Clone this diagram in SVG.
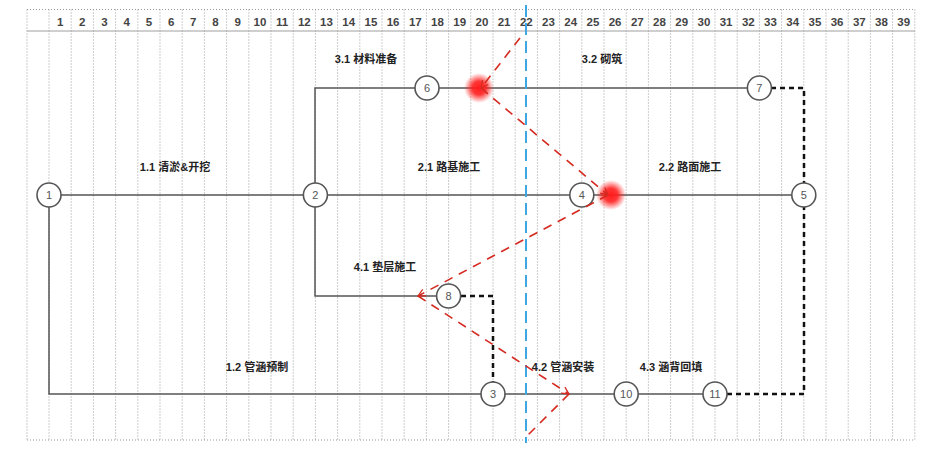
<svg xmlns="http://www.w3.org/2000/svg" width="948" height="456" viewBox="0 0 948 456">
<defs>
<style>
.grid{stroke:#9a9a9a;stroke-width:1;stroke-dasharray:1 2;fill:none}
.hdr{font-family:"Liberation Sans",Arial,sans-serif;font-size:11.5px;font-weight:bold;fill:#444;text-anchor:middle}
.lbl{font-family:"Liberation Sans","Noto Sans CJK SC",sans-serif;font-size:11px;font-weight:bold;fill:#222;text-anchor:middle}
.solid{stroke:#555;stroke-width:1.5;fill:none}
.dash{stroke:#111;stroke-width:2.5;stroke-dasharray:5 4;fill:none}
.red{stroke:#d42a20;stroke-width:1.6;stroke-dasharray:9 7;fill:none}
.blue{stroke:#3ea6e0;stroke-width:2;stroke-dasharray:12 6;fill:none}
.node circle{fill:#fff;stroke:#555;stroke-width:1.6}
.node text{font-family:"Liberation Sans",Arial,sans-serif;font-size:11px;fill:#555;text-anchor:middle}
</style>
<radialGradient id="glow">
<stop offset="0" stop-color="#ff1c1c" stop-opacity="1"/>
<stop offset="0.45" stop-color="#ff2020" stop-opacity="0.9"/>
<stop offset="1" stop-color="#ff3030" stop-opacity="0"/>
</radialGradient>
<marker id="chev" viewBox="0 0 10 10" refX="9" refY="5" markerWidth="9" markerHeight="9" markerUnits="userSpaceOnUse" orient="auto">
<path d="M1,1 L9,5 L1,9" fill="none" stroke="#d42a20" stroke-width="1.4"/>
</marker>
</defs>
<rect width="948" height="456" fill="#fff"/>
<g id="grid">
<line class="grid" x1="27" y1="9.5" x2="915" y2="9.5"/>
<line class="grid" x1="27" y1="440" x2="915" y2="440"/>
<line x1="27" y1="31" x2="915" y2="31" stroke="#cfcfcf" stroke-width="2"/>
<path class="grid" d="M27,9.5V440 M49,9.5V440 M71.2,9.5V440 M93.4,9.5V440 M115.6,9.5V440 M137.8,9.5V440 M160,9.5V440 M182.2,9.5V440 M204.4,9.5V440 M226.6,9.5V440 M248.8,9.5V440 M271,9.5V440 M293.2,9.5V440 M315.4,9.5V440 M337.6,9.5V440 M359.8,9.5V440 M382,9.5V440 M404.2,9.5V440 M426.4,9.5V440 M448.6,9.5V440 M470.8,9.5V440 M493,9.5V440 M515.2,9.5V440 M537.4,9.5V440 M559.6,9.5V440 M581.8,9.5V440 M604,9.5V440 M626.2,9.5V440 M648.4,9.5V440 M670.6,9.5V440 M692.8,9.5V440 M715,9.5V440 M737.2,9.5V440 M759.4,9.5V440 M781.6,9.5V440 M803.8,9.5V440 M826,9.5V440 M848.2,9.5V440 M870.4,9.5V440 M892.6,9.5V440 M914.8,9.5V440"/>
</g>
<g id="header">
<text class="hdr" x="60.1" y="26">1</text><text class="hdr" x="82.3" y="26">2</text><text class="hdr" x="104.5" y="26">3</text><text class="hdr" x="126.7" y="26">4</text><text class="hdr" x="148.9" y="26">5</text><text class="hdr" x="171.1" y="26">6</text><text class="hdr" x="193.3" y="26">7</text><text class="hdr" x="215.5" y="26">8</text><text class="hdr" x="237.7" y="26">9</text><text class="hdr" x="259.9" y="26">10</text><text class="hdr" x="282.1" y="26">11</text><text class="hdr" x="304.3" y="26">12</text><text class="hdr" x="326.5" y="26">13</text><text class="hdr" x="348.7" y="26">14</text><text class="hdr" x="370.9" y="26">15</text><text class="hdr" x="393.1" y="26">16</text><text class="hdr" x="415.3" y="26">17</text><text class="hdr" x="437.5" y="26">18</text><text class="hdr" x="459.7" y="26">19</text><text class="hdr" x="481.9" y="26">20</text><text class="hdr" x="504.1" y="26">21</text><text class="hdr" x="526.3" y="26">22</text><text class="hdr" x="548.5" y="26">23</text><text class="hdr" x="570.7" y="26">24</text><text class="hdr" x="592.9" y="26">25</text><text class="hdr" x="615.1" y="26">26</text><text class="hdr" x="637.3" y="26">27</text><text class="hdr" x="659.5" y="26">28</text><text class="hdr" x="681.7" y="26">29</text><text class="hdr" x="703.9" y="26">30</text><text class="hdr" x="726.1" y="26">31</text><text class="hdr" x="748.3" y="26">32</text><text class="hdr" x="770.5" y="26">33</text><text class="hdr" x="792.7" y="26">34</text><text class="hdr" x="814.9" y="26">35</text><text class="hdr" x="837.1" y="26">36</text><text class="hdr" x="859.3" y="26">37</text><text class="hdr" x="881.5" y="26">38</text><text class="hdr" x="903.7" y="26">39</text>
</g>
<g id="connectors">
<path class="solid" d="M61,195 H303 M327,195 H570 M594,195 H792"/>
<path class="solid" d="M49,207 V394 H481 M505,394 H614 M638,394 H703"/>
<path class="solid" d="M315,183 V88 H415 M439,88 H747"/>
<path class="solid" d="M315,207 V296 H436"/>
<path class="dash" d="M771,88 H804 V183"/>
<path class="dash" d="M461,296 H493 V382"/>
<path class="dash" d="M727,394 H804 V207"/>
</g>
<g id="labels">
<text class="lbl" x="366" y="63">3.1 材料准备</text>
<text class="lbl" x="602" y="63">3.2 砌筑</text>
<text class="lbl" x="175" y="171">1.1 清淤&amp;开挖</text>
<text class="lbl" x="449" y="171">2.1 路基施工</text>
<text class="lbl" x="690" y="171">2.2 路面施工</text>
<text class="lbl" x="385" y="271">4.1 垫层施工</text>
<text class="lbl" x="257" y="371">1.2 管涵预制</text>
<text class="lbl" x="563" y="371">4.2 管涵安装</text>
<text class="lbl" x="671" y="371">4.3 涵背回填</text>
</g>
<g id="node1" class="node"><circle cx="49" cy="195" r="12"/><text x="49" y="199">1</text></g>
<g id="node2" class="node"><circle cx="315.4" cy="195" r="12"/><text x="315.4" y="199">2</text></g>
<g id="node3" class="node"><circle cx="493" cy="394" r="12"/><text x="493" y="398">3</text></g>
<g id="node4" class="node"><circle cx="581.8" cy="195" r="12"/><text x="581.8" y="199">4</text></g>
<g id="node5" class="node"><circle cx="803.8" cy="195" r="12"/><text x="803.8" y="199">5</text></g>
<g id="node6" class="node"><circle cx="427" cy="88" r="12"/><text x="427" y="92">6</text></g>
<g id="node7" class="node"><circle cx="759.4" cy="88" r="12"/><text x="759.4" y="92">7</text></g>
<g id="node8" class="node"><circle cx="448.6" cy="296" r="12"/><text x="448.6" y="300">8</text></g>
<g id="node10" class="node"><circle cx="626.2" cy="394" r="12"/><text x="626.2" y="398">10</text></g>
<g id="node11" class="node"><circle cx="715" cy="394" r="12"/><text x="715" y="398">11</text></g>
<g id="checkline">
<line class="blue" x1="526" y1="5" x2="526" y2="443"/>
<circle cx="479" cy="88" r="15" fill="url(#glow)"/>
<circle cx="611" cy="195" r="15" fill="url(#glow)"/>
<line class="red" x1="520" y1="38" x2="481" y2="88" marker-end="url(#chev)"/>
<line class="red" x1="481" y1="88" x2="608" y2="195" marker-end="url(#chev)"/>
<line class="red" x1="608" y1="195" x2="418" y2="296" marker-end="url(#chev)"/>
<line class="red" x1="418" y1="296" x2="569" y2="394" marker-end="url(#chev)"/>
<line class="red" x1="569" y1="394" x2="526" y2="437"/>
</g>
</svg>
